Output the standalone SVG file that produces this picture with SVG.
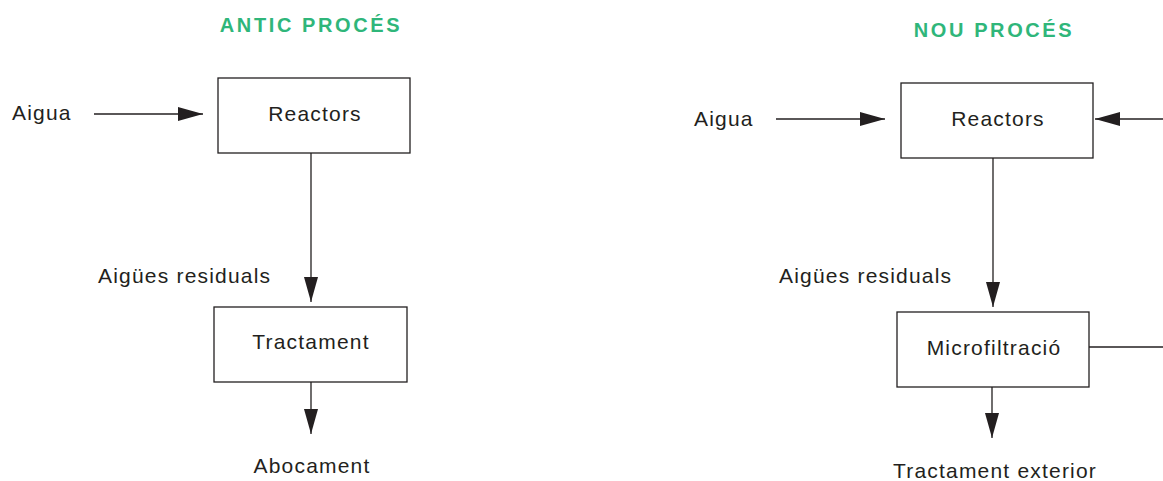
<svg xmlns="http://www.w3.org/2000/svg" width="1163" height="481" viewBox="0 0 1163 481">
<style>
.box{fill:#fff;stroke:#231f20;stroke-width:1.3}
.lbl{font-family:"Liberation Sans",Arial,sans-serif;font-size:21px;letter-spacing:1.2px;fill:#231f20}
.ttl{font-family:"Liberation Sans",Arial,sans-serif;font-size:20px;letter-spacing:2.6px;font-weight:bold;fill:#2fb67a}
.ln{stroke:#231f20;stroke-width:1.3;fill:none}
</style>
<defs>
<marker id="ah" markerUnits="userSpaceOnUse" markerWidth="26" markerHeight="16" refX="25" refY="7" orient="auto">
<path d="M0,0 L25,7 L0,14 Z" fill="#231f20"/>
</marker>
</defs>
<rect width="1163" height="481" fill="#fff"/>
<text class="ttl" x="311" y="32" text-anchor="middle">ANTIC PROCÉS</text>
<text class="ttl" x="994" y="37" text-anchor="middle">NOU PROCÉS</text>
<g id="left-reactors"><rect class="box" x="218" y="78" width="192" height="75"/><text class="lbl" x="315" y="121" text-anchor="middle">Reactors</text></g>
<g id="left-tractament"><rect class="box" x="214" y="307" width="193" height="75"/><text class="lbl" x="311" y="349" text-anchor="middle">Tractament</text></g>
<g id="right-reactors"><rect class="box" x="901" y="83" width="192" height="75"/><text class="lbl" x="998" y="126" text-anchor="middle">Reactors</text></g>
<g id="right-micro"><rect class="box" x="897" y="312" width="192" height="75"/><text class="lbl" x="994" y="355" text-anchor="middle">Microfiltració</text></g>
<g id="labels">
<text class="lbl" x="12" y="120">Aigua</text>
<text class="lbl" x="98" y="283">Aigües residuals</text>
<text class="lbl" x="312" y="473" text-anchor="middle">Abocament</text>
<text class="lbl" x="694" y="126">Aigua</text>
<text class="lbl" x="779" y="283">Aigües residuals</text>
<text class="lbl" x="995" y="478" text-anchor="middle">Tractament exterior</text>
</g>
<g id="connectors">
<line class="ln" x1="94" y1="114" x2="203" y2="114" marker-end="url(#ah)"/>
<line class="ln" x1="311" y1="153" x2="311" y2="302" marker-end="url(#ah)"/>
<line class="ln" x1="311" y1="382" x2="311" y2="434" marker-end="url(#ah)"/>
<line class="ln" x1="776" y1="119" x2="885" y2="119" marker-end="url(#ah)"/>
<line class="ln" x1="1163" y1="119" x2="1095" y2="119" marker-end="url(#ah)"/>
<line class="ln" x1="993" y1="158" x2="993" y2="307" marker-end="url(#ah)"/>
<line class="ln" x1="1089" y1="347" x2="1163" y2="347"/>
<line class="ln" x1="992" y1="387" x2="992" y2="438" marker-end="url(#ah)"/>
</g>
</svg>
